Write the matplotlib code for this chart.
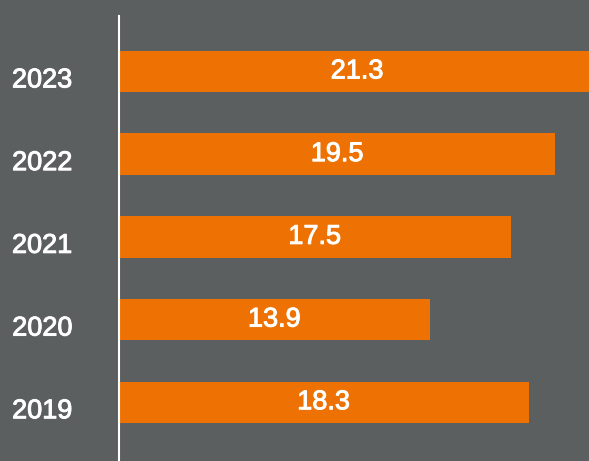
import matplotlib
matplotlib.use("Agg")
import matplotlib.pyplot as plt
import matplotlib.transforms as mtransforms
import matplotlib.patheffects as pe

years = ["2019", "2020", "2021", "2022", "2023"]
values = [18.3, 13.9, 17.5, 19.5, 21.3]

BG = "#5b5f60"
BAR = "#ed7203"

plt.rcParams['font.family'] = ['Liberation Sans', 'DejaVu Sans']

W, H = 589, 461
fig = plt.figure(figsize=(W / 100, H / 100), dpi=100, facecolor=BG)
ax = fig.add_axes([119 / W, 0, 470 / W, (H - 16) / H], facecolor=BG)

pos = list(range(len(years)))
bars = ax.barh(pos, values, height=0.5, color=BAR, zorder=2)

ax.set_xlim(0, 21.0)
ax.set_ylim(-0.71, 4.67)

stroke = [pe.withStroke(linewidth=0.7, foreground="white")]

for p, v in zip(pos, values):
    ax.text(v / 2, p, f"{v}", ha="center", va="center", color="white",
            fontsize=19.5, zorder=3, path_effects=stroke)

ax.set_yticks(pos)
ax.set_yticklabels(years, fontsize=19.5, color="white")
ax.tick_params(axis="y", length=0, pad=33.5)
offset = mtransforms.ScaledTranslation(0, -6 / 100, fig.dpi_scale_trans)
for lab in ax.get_yticklabels():
    lab.set_transform(lab.get_transform() + offset)
    lab.set_ha("right")
    lab.set_path_effects(stroke)

ax.set_xticks([])
for s in ["top", "right", "bottom"]:
    ax.spines[s].set_visible(False)
ax.spines["left"].set_color("white")
ax.spines["left"].set_linewidth(1.5)

fig.savefig("out.png", dpi=100, facecolor=BG)
